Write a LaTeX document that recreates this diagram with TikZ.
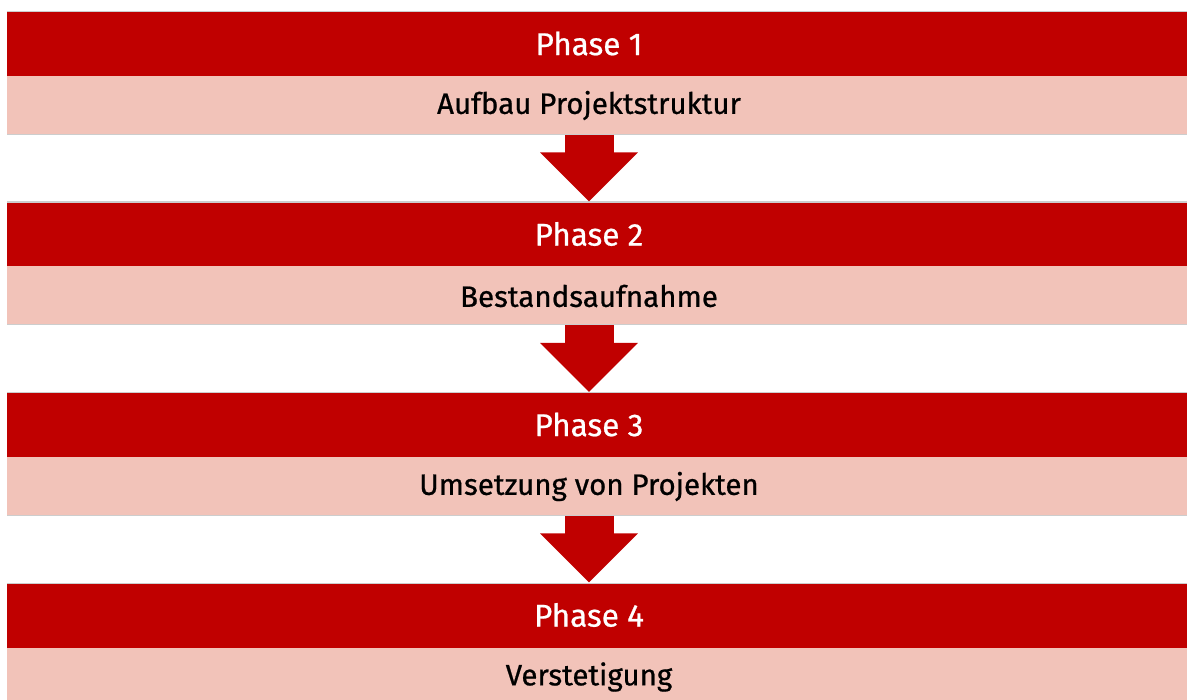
\documentclass[tikz,border=0pt]{standalone}
\usepackage{fontspec}
\setmainfont{Fira Sans}
\newfontfamily\phasefont{Fira Sans}[FakeBold=0.7]
\usetikzlibrary{arrows.meta}
\usetikzlibrary{positioning}

\definecolor{phasered}{RGB}{192,0,0}
\definecolor{phaselight}{RGB}{242,195,185}
\definecolor{bandedge}{RGB}{205,205,205}

\begin{document}
\begin{tikzpicture}[
    x=1pt, y=-1pt,
    every node/.style={font=\phasefont\fontsize{29.5}{32}\selectfont},
    phasehead/.style={rectangle, fill=phasered, text=white, font=\phasefont\fontsize{31.5}{34}\selectfont, minimum width=1180pt, minimum height=65pt, inner sep=0pt, outer sep=0pt, execute at begin node={\hspace*{-16pt}}},
    phasetask/.style={rectangle, fill=phaselight, text=black, minimum width=1180pt, minimum height=59pt, inner sep=0pt, outer sep=0pt, execute at begin node={\hspace*{-16pt}}},
    stepdown/.style={phasered, line width=49pt, -{Triangle[width=95pt, length=49pt]}},
    edgeline/.style={bandedge, line width=1.2pt}
]
\useasboundingbox (0,0) rectangle (1187,700);

% Nodes
\node[phasehead, anchor=north west] (p1) at (7,11) {Phase 1};
\node[phasetask, below=0pt of p1] (t1) {Aufbau Projektstruktur};
\node[phasehead, below=66.5pt of t1] (p2) {Phase 2};
\node[phasetask, below=0pt of p2] (t2) {Bestandsaufnahme};
\node[phasehead, below=66.5pt of t2] (p3) {Phase 3};
\node[phasetask, below=0pt of p3] (t3) {Umsetzung von Projekten};
\node[phasehead, below=66.5pt of t3] (p4) {Phase 4};
\node[phasetask, below=0pt of p4] (t4) {Verstetigung};

% Band edges
\draw[edgeline] ([yshift=-0.6pt]p1.north west) -- ([yshift=-0.6pt]p1.north east);
\draw[edgeline] ([yshift=0.6pt]t1.south west) -- ([yshift=0.6pt]t1.south east);
\draw[edgeline] ([yshift=-0.6pt]p2.north west) -- ([yshift=-0.6pt]p2.north east);
\draw[edgeline] ([yshift=0.6pt]t2.south west) -- ([yshift=0.6pt]t2.south east);
\draw[edgeline] ([yshift=-0.6pt]p3.north west) -- ([yshift=-0.6pt]p3.north east);
\draw[edgeline] ([yshift=0.6pt]t3.south west) -- ([yshift=0.6pt]t3.south east);
\draw[edgeline] ([yshift=-0.6pt]p4.north west) -- ([yshift=-0.6pt]p4.north east);

% Arrows
\draw[stepdown] ([xshift=-8pt]t1.south) -- ([xshift=-8pt]p2.north);
\draw[stepdown] ([xshift=-8pt]t2.south) -- ([xshift=-8pt]p3.north);
\draw[stepdown] ([xshift=-8pt]t3.south) -- ([xshift=-8pt]p4.north);

\end{tikzpicture}
\end{document}
